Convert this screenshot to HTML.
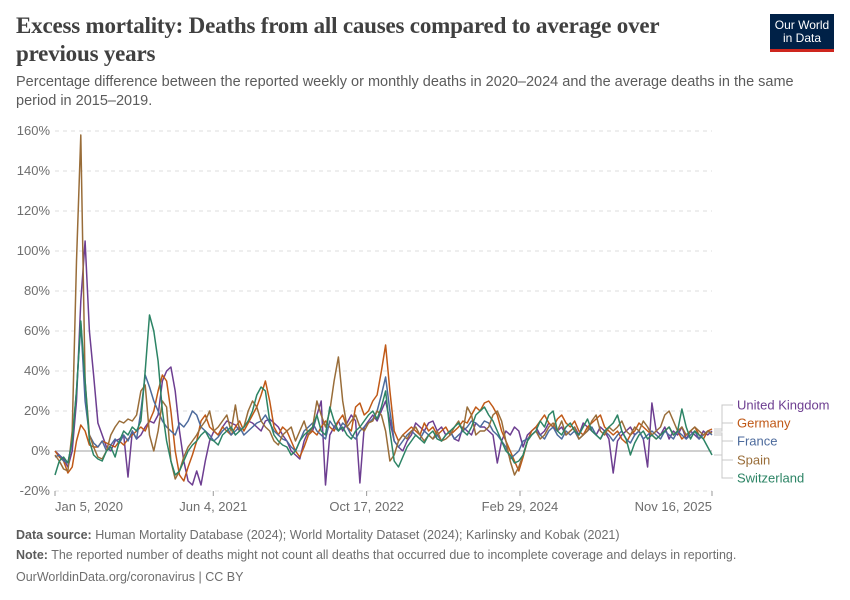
<!DOCTYPE html>
<html><head><meta charset="utf-8">
<style>
body{margin:0;background:#fff;width:850px;height:600px;overflow:hidden;font-family:"Liberation Sans",sans-serif;}
#title{position:absolute;left:16px;top:12px;width:700px;font-family:"Liberation Serif",serif;font-weight:bold;font-size:23px;letter-spacing:-0.2px;line-height:28px;color:#404040;}
#sub{position:absolute;left:16px;top:73px;width:820px;font-size:14.5px;line-height:19px;color:#5b5b5b;}
#logo{position:absolute;left:770px;top:14px;width:64px;height:38px;background:#002147;color:#fff;font-size:12px;line-height:13px;text-align:center;box-sizing:border-box;padding-top:5px;border-bottom:3px solid #ce261e;}
.foot{position:absolute;left:16px;font-size:12.5px;color:#6e6e6e;}
.foot b{font-weight:bold;color:#5b5b5b}
</style></head><body>
<div id="title">Excess mortality: Deaths from all causes compared to average over previous years</div>
<div id="logo">Our World<br>in Data</div>
<div id="sub">Percentage difference between the reported weekly or monthly deaths in 2020–2024 and the average deaths in the same period in 2015–2019.</div>
<svg id="chart" width="850" height="600" style="position:absolute;left:0;top:0"></svg>
<div class="foot" style="top:528px"><b>Data source:</b> Human Mortality Database (2024); World Mortality Dataset (2024); Karlinsky and Kobak (2021)</div>
<div class="foot" style="top:548px"><b>Note:</b> The reported number of deaths might not count all deaths that occurred due to incomplete coverage and delays in reporting.</div>
<div class="foot" style="top:570px">OurWorldinData.org/coronavirus | CC BY</div>
<script>
const startDate = Date.UTC(2020,0,5);
const stepDays = 14;
const yTicks = [-20,0,20,40,60,80,100,120,140,160];
const xTickLabels = ["Jan 5, 2020","Jun 4, 2021","Oct 17, 2022","Feb 29, 2024","Nov 16, 2025"];
const xTickDates = ["2020-01-05","2021-06-04","2022-10-17","2024-02-29","2025-11-16"];
const seriesNames = ["United Kingdom","Germany","France","Spain","Switzerland"];
const ukValues = [0,-2,-4,-8,0,25,75,105,60,38, 14,8,2,0,5,6,8,-13,10,6, 8,12,15,14,18,35,40,42,30,10, -5,-15,-17,-10,-17,-5,5,10,8,12, 15,14,13,10,12,15,14,12,10,15, 16,14,12,8,5,0,-2,-4,5,10, 10,18,25,-17,8,12,15,10,14,18, 15,-16,12,15,18,15,20,25,15,5, 2,0,5,8,14,12,10,14,15,10, 12,8,10,6,5,12,10,8,14,12, 12,10,8,-6,5,10,8,12,10,2, 8,10,12,8,10,14,12,10,12,8, 10,12,8,14,12,10,8,12,10,6, -11,5,8,10,12,8,10,6,-8,24, 10,8,12,6,10,8,12,6,10,8, 6,10,8,10];
const deValues = [0,-3,-5,-11,-8,5,13,10,3,2, 2,5,4,3,2,5,3,6,8,10, 12,10,15,20,30,38,35,20,0,-12, -15,-8,-2,5,15,18,12,10,8,12, 10,8,12,15,10,14,18,22,28,35, 25,12,8,12,10,5,0,-3,2,8, 10,8,12,15,12,10,15,18,12,10, 22,24,18,20,25,28,40,53,30,10, 5,8,10,12,10,8,14,10,12,8, 10,12,8,10,12,15,14,18,22,20, 24,25,22,18,10,5,0,-5,-10,-3, 5,10,12,15,18,14,12,16,18,14, 12,15,10,8,12,14,16,18,12,10, 8,10,6,4,8,10,14,12,10,8, 6,8,10,12,8,10,6,8,10,12, 8,6,10,11];
const frValues = [-3,-2,-5,-6,5,30,64,25,8,4, 2,5,0,3,6,4,8,5,10,6, 20,38,32,25,20,15,12,10,8,14, 12,15,20,18,12,10,8,5,7,10, 12,8,10,12,8,10,12,14,15,18, 14,10,8,6,5,2,0,5,10,12, 14,10,8,6,15,12,10,14,12,8, 6,10,12,14,16,20,28,37,20,5, 2,5,8,10,8,6,10,8,6,8, 5,8,10,6,8,10,12,15,14,12, 15,14,10,8,5,2,-4,-2,0,5, 6,8,10,8,6,10,12,8,6,10, 8,10,6,8,10,12,8,6,10,8, 5,8,10,6,4,8,10,6,8,10, 8,6,10,8,6,10,8,6,8,10, 6,8,10,8];
const esValues = [-2,-5,-9,-10,10,95,158,35,8,2, -3,-4,0,8,12,15,14,16,15,18, 30,33,8,0,10,25,22,-5,-14,-10, -3,2,5,8,12,15,20,10,12,15, 18,10,23,10,12,20,25,22,15,12, 10,5,3,8,10,12,5,10,15,8, 12,25,18,12,20,35,47,25,12,15, 18,12,10,14,15,20,18,10,-5,-2, 5,8,6,10,12,8,5,8,6,10, 5,6,8,12,15,10,22,18,8,10, 10,12,18,20,15,5,-5,-12,-8,-2, 5,8,10,6,8,12,14,10,15,8, 10,12,6,8,10,15,18,10,8,12, 10,12,15,10,8,12,10,15,12,8, 10,12,18,20,15,10,12,8,10,12, 10,8,10,9];
const chValues = [-12,-5,-3,-6,5,30,65,35,5,-2, -4,-5,0,2,-3,5,10,8,12,10, 15,40,68,60,45,20,5,-5,-12,-10, -5,0,3,5,8,10,6,5,3,8, 10,12,8,10,12,15,20,28,32,30, 15,8,5,3,2,-2,0,5,8,10, 12,18,10,8,22,15,10,12,8,6, 10,12,15,18,20,16,22,30,10,-5, -8,-3,2,5,8,6,4,8,10,6, 5,8,10,12,14,10,8,12,18,20, 22,18,15,10,5,0,-2,-6,-5,-2, 5,8,10,15,12,18,20,10,8,12, 14,10,8,12,16,10,8,6,10,12, 14,18,10,6,-2,4,8,10,6,8, 6,8,10,12,8,10,21,12,6,10, 8,6,2,-2];
const allSeries = [ukValues,deValues,frValues,esValues,chValues];
const colors = ["#6d3e91","#c05917","#4c6a9c","#996d39","#2c8465"];

const svg = document.getElementById('chart');
const NS = "http://www.w3.org/2000/svg";
const X0 = 55, X1 = 712, dayEnd = (Date.UTC(2025,10,16)-startDate)/864e5;
function xScale(ms){ return X0 + ((ms-startDate)/864e5)/dayEnd*(X1-X0); }
function yScale(v){ return 451 - v*2; }
function mk(tag, attrs){ const e=document.createElementNS(NS,tag); for(const k in attrs) e.setAttribute(k,attrs[k]); svg.appendChild(e); return e; }

yTicks.forEach(t=>{
  const g = mk('line',{x1:55,x2:712,y1:yScale(t),y2:yScale(t),stroke:t===0?'#a1a1a1':'#dddddd','stroke-width':1,'stroke-dasharray':t===0?'':'4,4'});
  
  
  const tx = mk('text',{x:50,y:yScale(t)+4,'font-size':13,fill:'#6e6e6e','text-anchor':'end','font-family':'Liberation Sans'});
  tx.textContent = t+'%';
  
  
});
xTickDates.forEach((d,i)=>{
  const x = xScale(Date.parse(d));
  const tk = mk('line',{x1:x,x2:x,y1:491,y2:496,stroke:'#999'});
  
  
  const anchor = i===0?'start':(i===xTickDates.length-1?'end':'middle');
  const tx = mk('text',{x:x,y:511,'font-size':13,fill:'#6e6e6e','text-anchor':anchor,'font-family':'Liberation Sans'});
  tx.textContent = xTickLabels[i];
  
  
});
allSeries.forEach((vals,si)=>{
  const pts = vals.map((v,i)=>xScale(startDate+i*stepDays*864e5).toFixed(1)+','+yScale(v).toFixed(1)).join(' ');
  const pl = mk('polyline',{points:pts,fill:'none',stroke:colors[si],'stroke-width':1.5,'stroke-linejoin':'round'});
  
  
});
const labelY = [405,423,441,460,478];
allSeries.forEach((vals,si)=>{
  const ly = yScale(vals[vals.length-1]);
  const mid = 722;
  const p = mk('path',{d:`M714,${ly.toFixed(1)} H${mid} V${labelY[si]} H733`,fill:'none',stroke:'#c8c8c8','stroke-width':1});
  
  
  const tx = mk('text',{x:737,y:labelY[si]+4.5,'font-size':13,fill:colors[si],'font-family':'Liberation Sans'});
  tx.textContent = seriesNames[si];
  
  
});
</script>
</body></html>
